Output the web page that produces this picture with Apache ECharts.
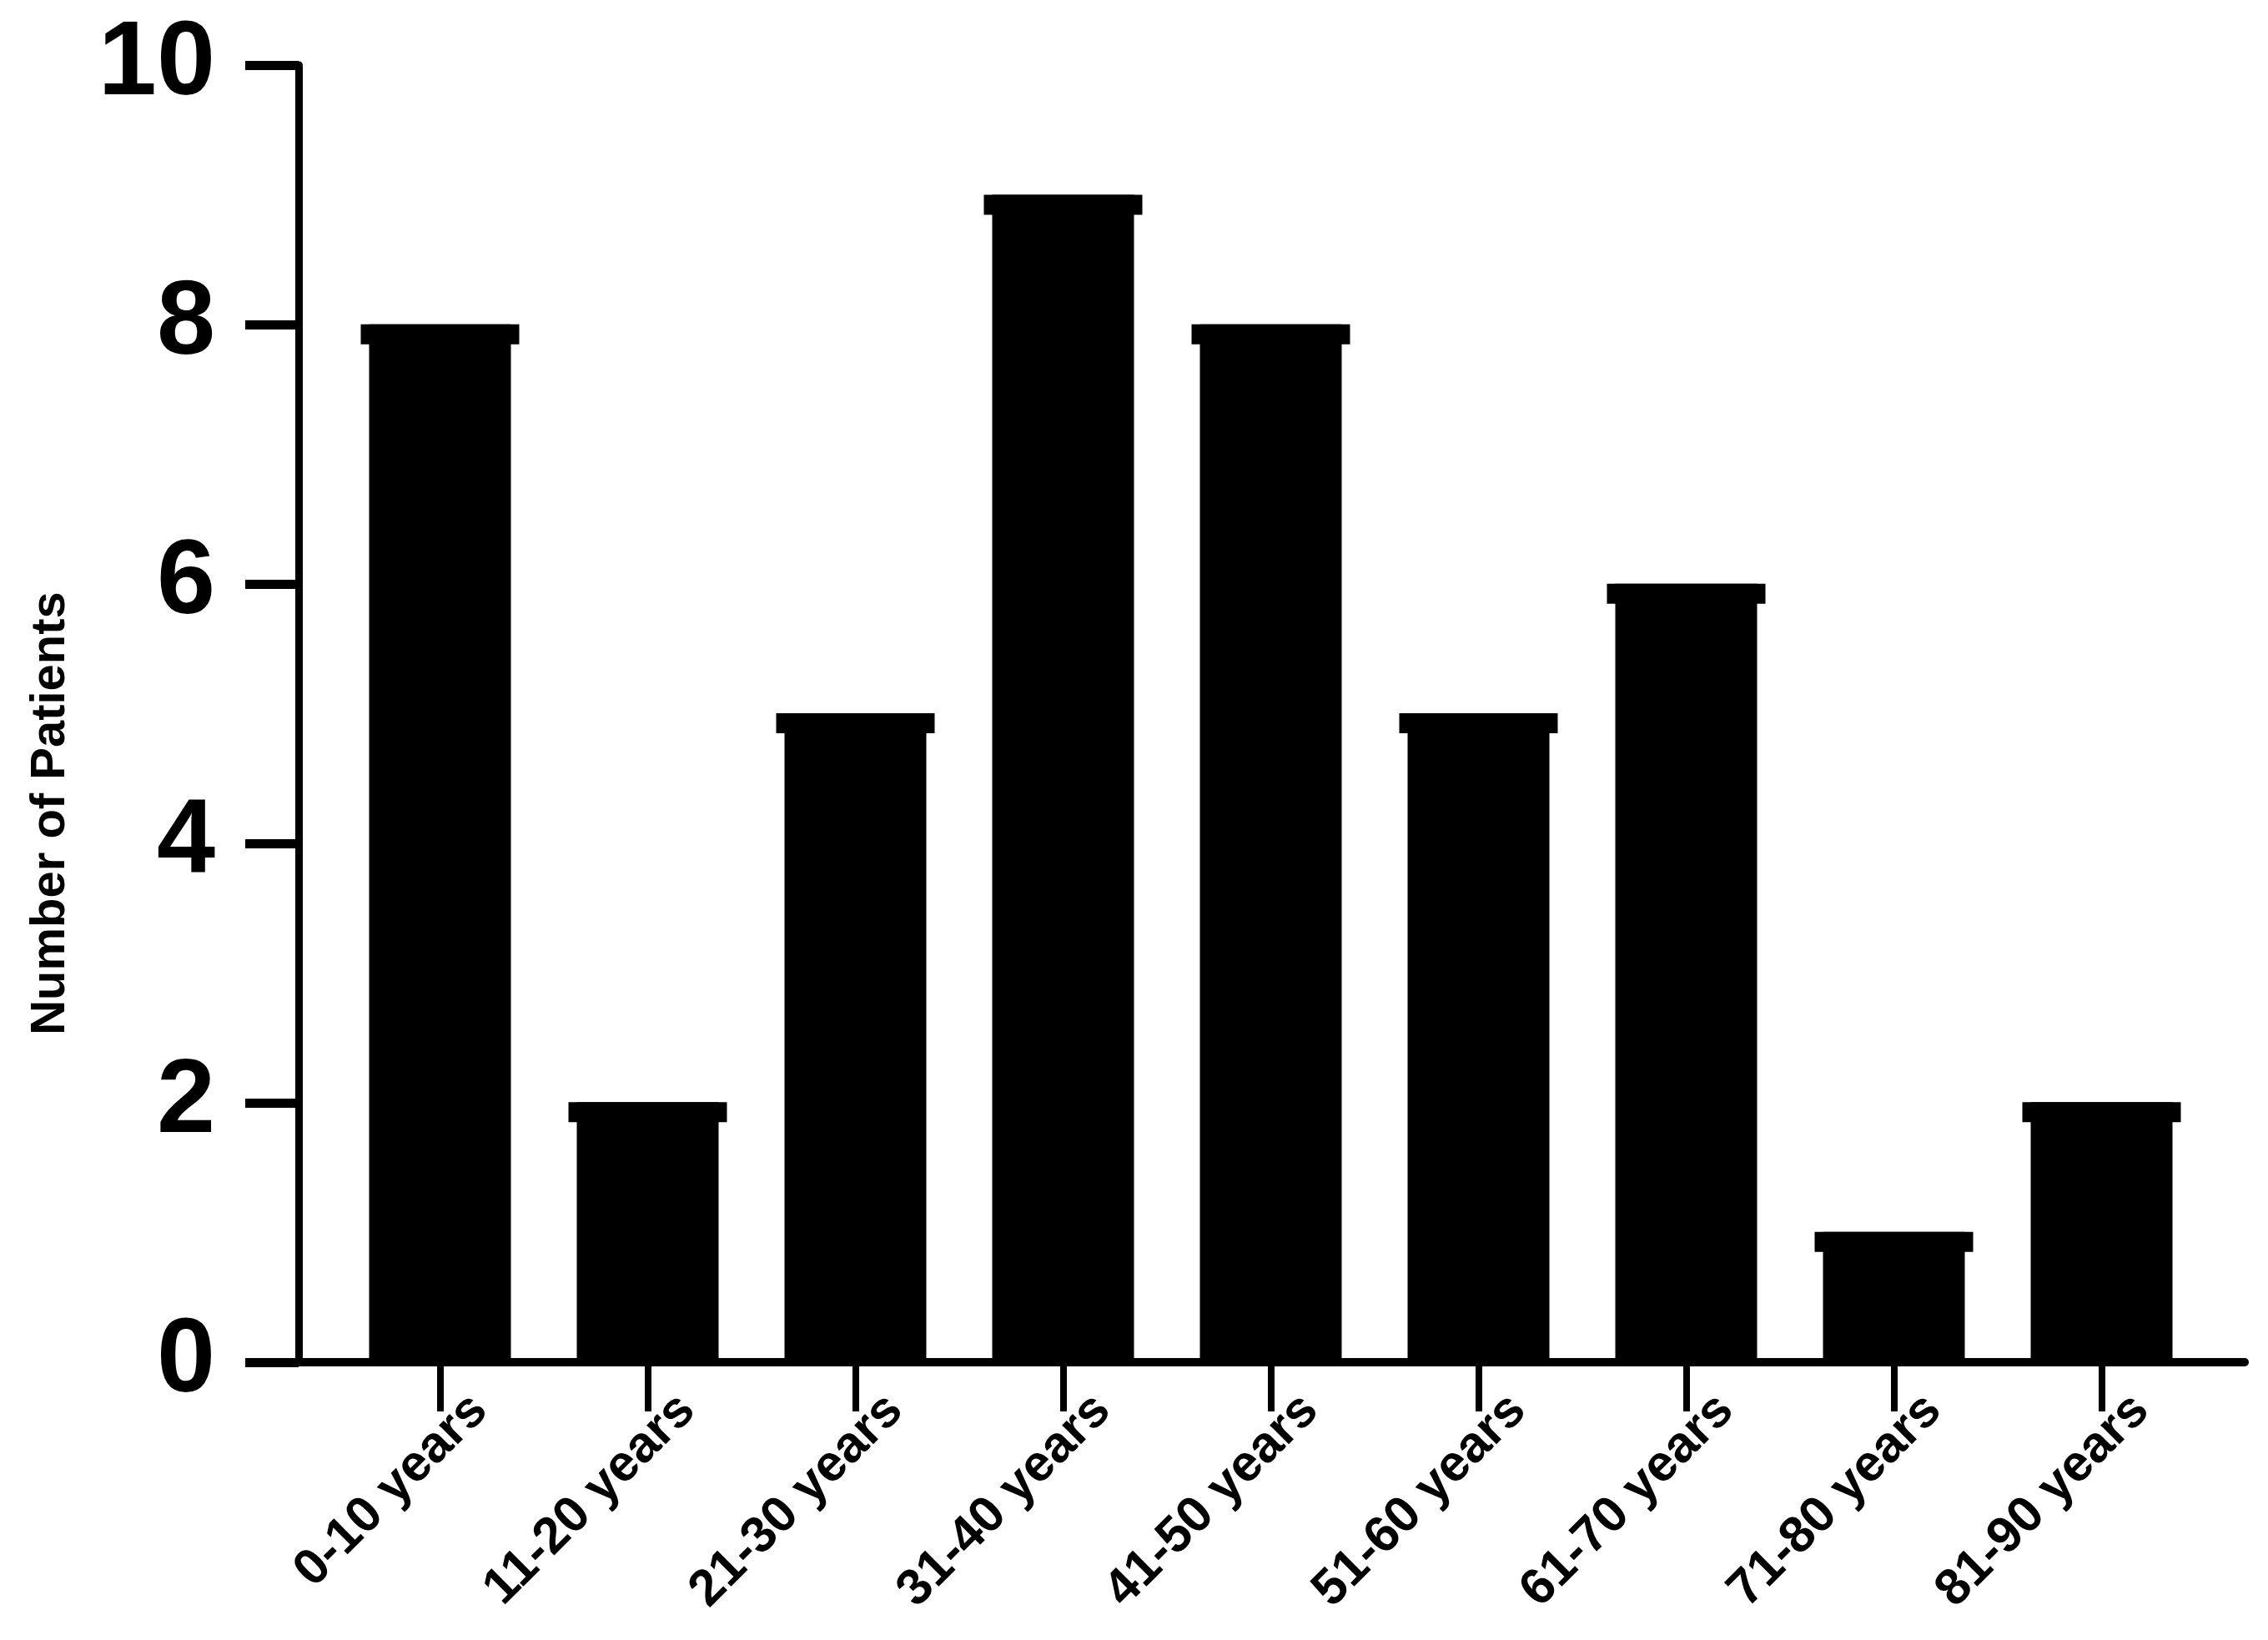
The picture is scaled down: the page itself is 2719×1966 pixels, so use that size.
<!DOCTYPE html>
<html>
<head>
<meta charset="utf-8">
<script src="https://cdn.jsdelivr.net/npm/echarts@6/dist/echarts.min.js"></script>
<style>
html,body{margin:0;padding:0;background:#fff;}
#chart{width:2719px;height:1966px;}
</style>
</head>
<body>
<div id="chart"></div>
<script>
const categories = ['0-10 years','11-20 years','21-30 years','31-40 years','41-50 years','51-60 years','61-70 years','71-80 years','81-90 years'];
const patients = [8, 2, 5, 9, 8, 5, 6, 1, 2];
const yTicks = [0, 2, 4, 6, 8, 10];
const yTitle = 'Number of Patients';

const FONT = '"Liberation Sans", Arial, sans-serif';
const chart = echarts.init(document.getElementById('chart'), null, {renderer: 'canvas'});

const gridTop = 78, gridBottom = 1966 - 1633;
chart.setOption({
  backgroundColor: '#ffffff',
  animation: false,
  grid: [
    {left: 358, right: 28, top: gridTop, bottom: gridBottom, containLabel: false},
    {left: 403, right: 75, top: gridTop, bottom: gridBottom, containLabel: false}
  ],
  xAxis: [
    {
      gridIndex: 0, type: 'value', min: 0, max: 1,
      axisLine: {show: true, onZero: true, lineStyle: {color: '#000', width: 10}},
      axisTick: {show: false}, axisLabel: {show: false}, splitLine: {show: false}
    },
    {
      gridIndex: 1, type: 'category', data: categories,
      axisLine: {show: false},
      axisTick: {show: true, alignWithLabel: true, length: 60, lineStyle: {color: '#000', width: 8}},
      axisLabel: {
        rotate: 45, interval: 0, margin: 2,
        align: 'right', verticalAlign: 'top', lineHeight: 134,
        fontFamily: FONT, fontWeight: 'bold', fontSize: 61, color: '#000'
      },
      splitLine: {show: false}
    }
  ],
  yAxis: [
    {
      gridIndex: 0, type: 'value', min: yTicks[0], max: yTicks[yTicks.length - 1], interval: 2,
      axisLine: {show: true, onZero: false, lineStyle: {color: '#000', width: 9}},
      axisTick: {show: true, inside: false, length: 64, lineStyle: {color: '#000', width: 11}},
      axisLabel: {margin: 100, fontFamily: FONT, fontWeight: 'bold', fontSize: 126, color: '#000'},
      splitLine: {show: false}
    },
    {
      gridIndex: 1, type: 'value', min: yTicks[0], max: yTicks[yTicks.length - 1],
      show: false, splitLine: {show: false}
    }
  ],
  series: [
    {
      type: 'bar', xAxisIndex: 1, yAxisIndex: 1, data: patients,
      barWidth: 170, itemStyle: {color: '#000'}, silent: true
    },
    {
      type: 'pictorialBar', xAxisIndex: 1, yAxisIndex: 1, data: patients,
      symbol: 'rect', symbolSize: [190, 24], symbolPosition: 'end',
      itemStyle: {color: '#000'}, silent: true, z: 3
    }
  ],
  graphic: [
    {
      type: 'text', x: 61, y: 975, rotation: Math.PI / 2,
      style: {text: yTitle, font: 'bold 58px ' + FONT, fill: '#000', align: 'center', verticalAlign: 'middle'}
    }
  ]
});
</script>
</body>
</html>
